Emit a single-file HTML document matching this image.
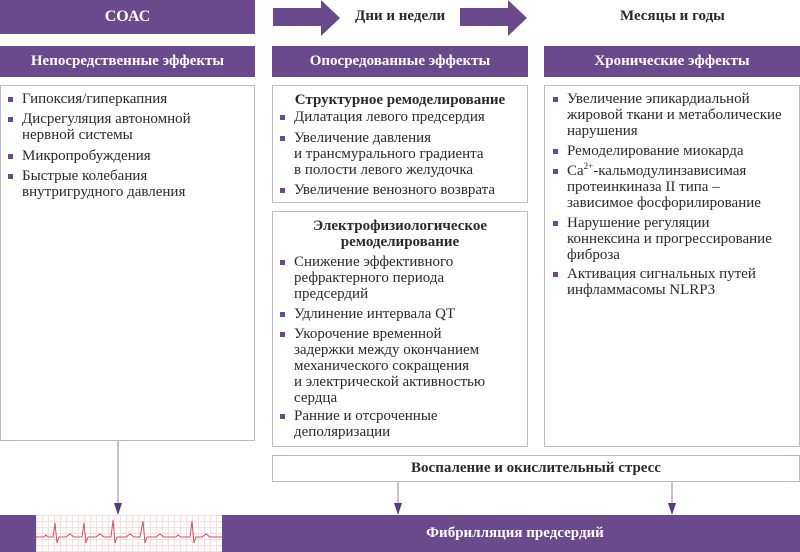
<!DOCTYPE html>
<html><head><meta charset="utf-8"><style>
*{margin:0;padding:0;box-sizing:border-box}
body{width:800px;height:552px;position:relative;background:#fff;font-family:"Liberation Serif",serif;color:#2a2a2a;overflow:hidden}
.p{position:absolute;background:#6a4a8c;color:#fff;font-weight:bold;text-align:center;font-size:15px}
.b{position:absolute;border:1px solid #c0b8cc;background:#fff}
.t{position:absolute;font-family:"Liberation Serif",serif;font-size:15px;white-space:nowrap;line-height:16px}
.h{font-weight:bold}
.q{position:absolute;width:5px;height:5px;background:#6a4a8c}
</style></head><body>
<div class="p" style="left:0;top:0;width:255px;height:34px;line-height:34px;font-size:16px">СОАС</div>
<svg style="position:absolute;left:0;top:0" width="800" height="552">
<polygon points="273,8 321,8 321,0 340,18 321,36 321,26 273,26" fill="#6a4a8c"/>
<polygon points="460,8 508,8 508,0 527,18 508,36 508,26 460,26" fill="#6a4a8c"/>
<g stroke="#a99fbc" stroke-width="1.3"><line x1="118" y1="441" x2="118" y2="506"/><line x1="398" y1="481" x2="398" y2="506"/><line x1="672" y1="481" x2="672" y2="506"/></g>
<g fill="#5a3a80"><polygon points="114,503 122,503 118,515"/><polygon points="394,503 402,503 398,515"/><polygon points="668,503 676,503 672,515"/></g>
</svg>
<div class="t h" style="left:355px;top:8px;font-size:15px">Дни и недели</div>
<div class="t h" style="left:620px;top:8px;font-size:15px">Месяцы и годы</div>
<div class="p" style="left:0;top:46px;width:255px;height:31px;line-height:31px">Непосредственные эффекты</div>
<div class="p" style="left:272px;top:46px;width:256px;height:31px;line-height:31px">Опосредованные эффекты</div>
<div class="p" style="left:544px;top:46px;width:256px;height:31px;line-height:31px">Хронические эффекты</div>
<div class="b" style="left:0;top:85px;width:255px;height:356px"></div>
<div class="b" style="left:272px;top:85px;width:256px;height:118px"></div>
<div class="b" style="left:272px;top:211px;width:256px;height:236px"></div>
<div class="b" style="left:544px;top:85px;width:256px;height:362px"></div>
<div class="b" style="left:272px;top:455px;width:528px;height:27px"></div>
<div class="t h" style="left:272px;width:528px;text-align:center;top:460px">Воспаление и окислительный стресс</div>
<div class="p" style="left:0;top:515px;width:800px;height:37px;line-height:37px"><span style="position:relative;left:115px">Фибрилляция предсердий</span></div>
<div style="position:absolute;left:36px;top:515px;width:186px;height:37px;background:#fff;background-image:linear-gradient(#f6dede 1px,transparent 1px),linear-gradient(90deg,#f6dede 1px,transparent 1px);background-size:6px 6px"></div>
<svg style="position:absolute;left:36px;top:515px" width="186" height="37"><polyline fill="none" stroke="#d05060" stroke-width="1" points="0,22 8,22 10,20 12,22 17,22 19,8 21,28 23,22 30,22 34,19 38,22 46,22 48,8 50,28 52,22 60,22 64,19 68,22 75,22 77,5 79,28 81,22 90,22 94,19 98,22 104,22 107,6 109,28 111,22 120,22 124,19 128,22 140,22 142,20 145,22 154,22 156,6 158,28 160,22 166,22 170,19 174,22 186,22"/></svg>

<div class="q" style="left:8px;top:97px"></div><div class="t" style="left:22px;top:91px">Гипоксия/гиперкапния</div>
<div class="q" style="left:8px;top:117px"></div><div class="t" style="left:22px;top:111px">Дисрегуляция автономной<br>нервной системы</div>
<div class="q" style="left:8px;top:154px"></div><div class="t" style="left:22px;top:148px">Микропробуждения</div>
<div class="q" style="left:8px;top:174px"></div><div class="t" style="left:22px;top:168px">Быстрые колебания<br>внутригрудного давления</div>

<div class="t h" style="left:272px;width:256px;text-align:center;top:92px">Структурное ремоделирование</div>
<div class="q" style="left:280px;top:115px"></div><div class="t" style="left:294px;top:109px">Дилатация левого предсердия</div>
<div class="q" style="left:280px;top:136px"></div><div class="t" style="left:294px;top:130px">Увеличение давления<br>и трансмурального градиента<br>в полости левого желудочка</div>
<div class="q" style="left:280px;top:188px"></div><div class="t" style="left:294px;top:182px">Увеличение венозного возврата</div>

<div class="t h" style="left:272px;width:256px;text-align:center;top:218px">Электрофизиологическое<br>ремоделирование</div>
<div class="q" style="left:280px;top:260px"></div><div class="t" style="left:294px;top:254px">Снижение эффективного<br>рефрактерного периода<br>предсердий</div>
<div class="q" style="left:280px;top:312px"></div><div class="t" style="left:294px;top:306px">Удлинение интервала QT</div>
<div class="q" style="left:280px;top:332px"></div><div class="t" style="left:294px;top:326px">Укорочение временной<br>задержки между окончанием<br>механического сокращения<br>и электрической активностью<br>сердца</div>
<div class="q" style="left:280px;top:414px"></div><div class="t" style="left:294px;top:408px">Ранние и отсроченные<br>деполяризации</div>

<div class="q" style="left:553px;top:97px"></div><div class="t" style="left:567px;top:91px">Увеличение эпикардиальной<br>жировой ткани и метаболические<br>нарушения</div>
<div class="q" style="left:553px;top:149px"></div><div class="t" style="left:567px;top:143px">Ремоделирование миокарда</div>
<div class="q" style="left:553px;top:169px"></div><div class="t" style="left:567px;top:163px">Ca<sup style="font-size:9px;line-height:0">2+</sup>-кальмодулинзависимая<br>протеинкиназа II типа –<br>зависимое фосфорилирование</div>
<div class="q" style="left:553px;top:221px"></div><div class="t" style="left:567px;top:215px">Нарушение регуляции<br>коннексина и прогрессирование<br>фиброза</div>
<div class="q" style="left:553px;top:272px"></div><div class="t" style="left:567px;top:266px">Активация сигнальных путей<br>инфламмасомы NLRP3</div>
</body></html>
